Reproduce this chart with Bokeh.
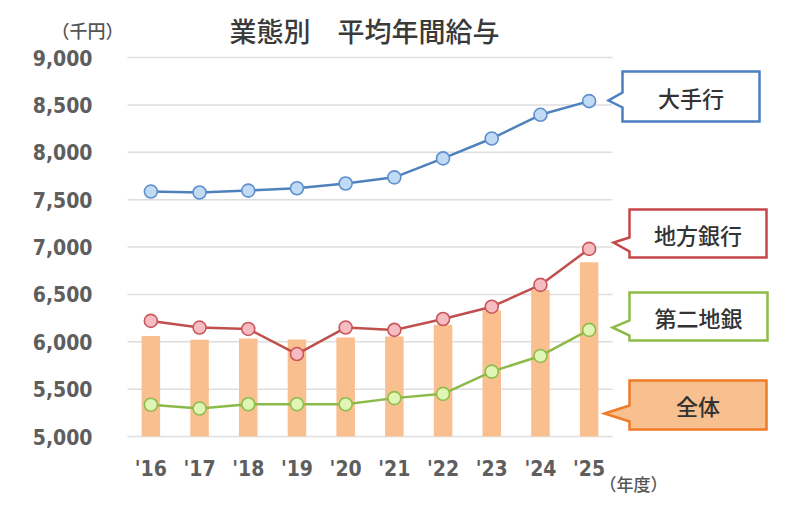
from bokeh.plotting import figure
from bokeh.models import Range1d, FixedTicker, NumeralTickFormatter
from bokeh.core.properties import value
from bokeh.embed import file_html
from bokeh.resources import INLINE

# ---------------- data ----------------
years = ["'16", "'17", "'18", "'19", "'20", "'21", "'22", "'23", "'24", "'25"]
major_banks = [7585, 7575, 7595, 7620, 7670, 7735, 7935, 8145, 8395, 8540]      # 大手行
regional_banks = [6220, 6150, 6135, 5870, 6150, 6125, 6240, 6370, 6600, 6980]   # 地方銀行
second_regional = [5335, 5295, 5340, 5340, 5340, 5405, 5450, 5685, 5850, 6125]  # 第二地銀
overall = [6060, 6020, 6035, 6025, 6045, 6055, 6180, 6330, 6545, 6840]          # 全体
y_ticks = [5000, 5500, 6000, 6500, 7000, 7500, 8000, 8500, 9000]

# ---------------- layout (page pixels) ----------------
W, H = 790, 500
PL, PR, PT, PB = 127, 612, 57, 436       # plotting area on page
X0, X1 = -0.48, 9.48
Y0, Y1 = 5000, 9000
SX = (PR - PL) / (X1 - X0)
SY = (PB - PT) / (Y1 - Y0)

def dx(px):
    return X0 + (px - PL) / SX

def dy(py):
    return Y1 - (py - PT) / SY

CJK = "Noto Sans CJK JP Medium"
xs = list(range(len(years)))

p = figure(width=W, height=H, output_backend="svg", toolbar_location=None,
           x_range=Range1d(dx(0), dx(W)), y_range=Range1d(dy(H), dy(0)),
           min_border=0)
p.outline_line_color = None
p.background_fill_color = "white"
p.border_fill_color = "white"
p.xgrid.grid_line_color = None
p.ygrid.grid_line_color = None

# axes (drawn inside the frame at fixed locations)
p.yaxis.ticker = FixedTicker(ticks=y_ticks)
p.yaxis.formatter = NumeralTickFormatter(format="0,0")
p.yaxis.fixed_location = X0
p.xaxis.ticker = FixedTicker(ticks=xs)
p.xaxis.major_label_overrides = {i: y for i, y in enumerate(years)}
p.xaxis.fixed_location = Y0
for ax in (p.xaxis, p.yaxis):
    ax.axis_line_color = None
    ax.major_tick_line_color = None
    ax.minor_tick_line_color = None
    ax.major_tick_out = 0
    ax.major_tick_in = 0
    ax.major_label_text_font = "DejaVu Sans Condensed"
    ax.major_label_text_font_size = "21px"
    ax.major_label_text_font_style = "bold"
    ax.major_label_text_color = "#5e5e5e"
p.yaxis.major_label_standoff = 35
p.xaxis.major_label_standoff = 20

# horizontal gridlines over the category area
p.segment(x0=[X0] * len(y_ticks), x1=[X1] * len(y_ticks), y0=y_ticks, y1=y_ticks,
          line_color="#dedede", line_width=1.5)

# bars
p.vbar(x=xs, top=overall, bottom=Y0, width=0.38, fill_color="#f9bf8f",
       line_color=None)

# lines
series = [
    (major_banks, "#4f81bd", "#c2dbf5", "#5d8fcf"),
    (regional_banks, "#c0504d", "#f6bcc2", "#c9565a"),
    (second_regional, "#8cba48", "#e0f6b4", "#8fbd4c"),
]
for vals, lc, fc, mc in series:
    p.line(xs, vals, line_color=lc, line_width=2.5)
    p.scatter(xs, vals, size=13, fill_color=fc, line_color=mc, line_width=1.6)

# callouts: text, box left/right/top/bottom, pointer tip, pointer base
callouts = [
    ("大手行", 622, 759, 71, 121, 608, 100, 92, 107, "#4a7fc4", "white"),
    ("地方銀行", 629, 766, 209, 257, 613, 242, 237, 251, "#c6474a", "white"),
    ("第二地銀", 629, 767, 292, 340, 612, 327, 320, 335, "#8dbb47", "white"),
    ("全体", 629, 766, 380, 429, 604, 413, 405, 421, "#ef7a28", "#f9c08f"),
]
for text, l, r, t, b, tx, ty, y1, y2, bc, fc in callouts:
    px = [l, r, r, l, l, tx, l]
    py = [t, t, b, b, y2, ty, y1]
    p.patch([dx(v) for v in px], [dy(v) for v in py], fill_color=fc,
            line_color=bc, line_width=2.5, line_join="miter")
    p.text(x=[dx((l + r) / 2)], y=[dy((t + b) / 2)], text=[text],
           text_align="center", text_baseline="middle",
           text_font=value(CJK), text_font_size="22px",
           text_color="#333333")

# titles / units
p.text(x=[dx(364)], y=[dy(30)], text=["業態別　平均年間給与"],
       text_align="center", text_baseline="middle",
       text_font=value(CJK), text_font_size="27px",
       text_color="#3a3a3a")
p.text(x=[dx(87)], y=[dy(29)], text=["（千円）"],
       text_align="center", text_baseline="middle",
       text_font=value(CJK), text_font_size="18px",
       text_color="#555555")
p.text(x=[dx(633)], y=[dy(483)], text=["（年度）"],
       text_align="center", text_baseline="middle",
       text_font=value(CJK), text_font_size="17px",
       text_color="#555555")

open("out.html", "w").write(file_html(p, INLINE))
